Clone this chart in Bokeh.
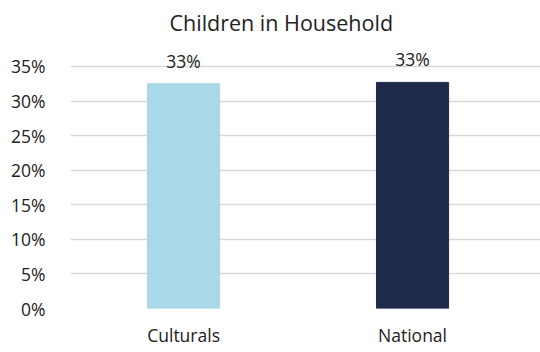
from bokeh.plotting import figure
from bokeh.models import ColumnDataSource, Range1d, NumeralTickFormatter, FixedTicker
from bokeh.core.properties import value
from bokeh.embed import file_html
from bokeh.resources import INLINE

categories = ["Culturals", "National"]
values = [0.325, 0.327]
labels = ["33%", "33%"]
colors = ["#A9D8E8", "#1F2A4A"]
y_ticks = [0, 0.05, 0.10, 0.15, 0.20, 0.25, 0.30, 0.35]

FONT = "Open Sans"
xs = list(range(len(categories)))
src = ColumnDataSource(dict(x=xs, top=values, label=labels, color=colors))

p = figure(width=540, height=352, output_backend="svg", toolbar_location=None,
           x_range=Range1d(-0.494, len(categories) - 1 + 0.559),
           y_range=Range1d(0, 0.3876),
           min_border_left=70, min_border_right=0, min_border_top=40, min_border_bottom=44,
           title="Children in Household")
p.outline_line_color = None
p.background_fill_color = "white"
p.border_fill_color = "white"

p.title.align = "left"
p.title.offset = 99
p.title.text_font = FONT
p.title.text_font_size = "21.5px"
p.title.text_font_style = "normal"
p.title.text_color = "#222222"
p.title.standoff = 8

p.vbar(x="x", top="top", width=0.315, color="color", source=src)

p.text(x="x", y="top", text="label", source=src, text_align="center",
       text_baseline="alphabetic", y_offset=-23, text_font=value(FONT),
       text_font_size="17.5px", text_color="#222222")

p.yaxis.ticker = FixedTicker(ticks=y_ticks)
p.yaxis.formatter = NumeralTickFormatter(format="0%")
p.xaxis.ticker = FixedTicker(ticks=xs)
p.xaxis.major_label_overrides = {i: c for i, c in enumerate(categories)}

for ax in (p.xaxis[0], p.yaxis[0]):
    ax.axis_line_color = None
    ax.major_tick_line_color = None
    ax.minor_tick_line_color = None
    ax.major_label_text_font = FONT
    ax.major_label_text_font_size = "17.5px"
    ax.major_label_text_color = "#222222"
p.yaxis.major_label_standoff = 19
p.xaxis.major_label_standoff = 8

p.xgrid.grid_line_color = None
p.ygrid.ticker = FixedTicker(ticks=y_ticks)
p.ygrid.grid_line_color = "#D9D9D9"
p.ygrid.grid_line_width = 1.5

open("out.html", "w").write(file_html(p, INLINE))
